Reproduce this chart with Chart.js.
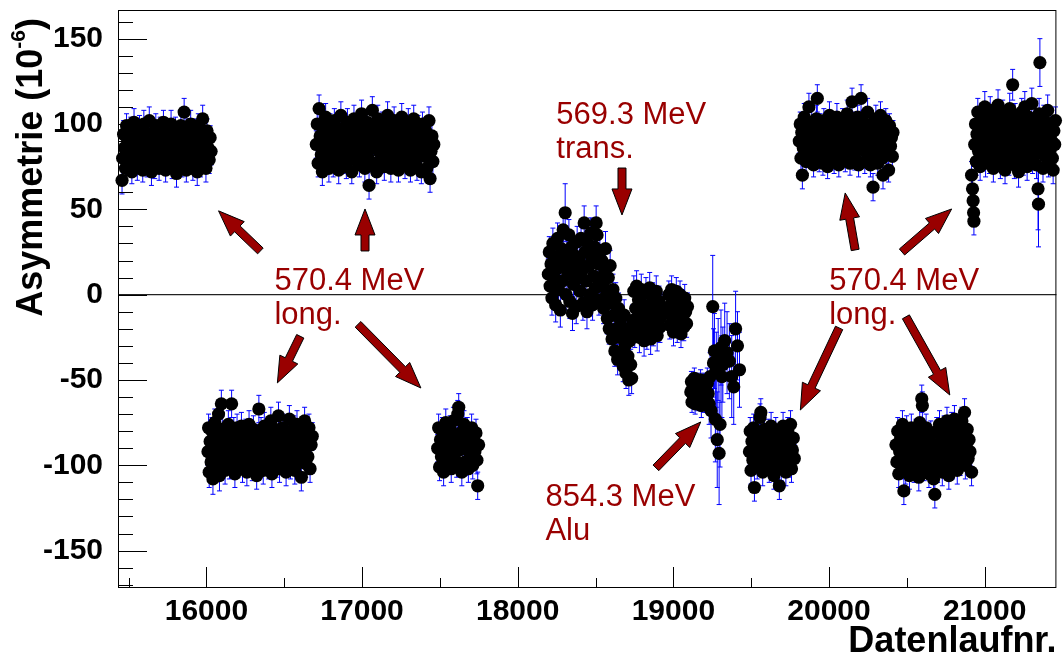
<!DOCTYPE html>
<html>
<head>
<meta charset="utf-8">
<script src="https://cdn.jsdelivr.net/npm/chart.js@4.4.1/dist/chart.umd.min.js"></script>
<style>
html, body { margin: 0; padding: 0; background: #fff; }
#wrap { width: 1063px; height: 662px; }
</style>
</head>
<body>
<div id="wrap"><canvas id="asym" width="1063" height="662"></canvas></div>
<script>
// each entry: [run number, asymmetry in ppm, error]
const longA = [[15458,67,8],[15462,80,7],[15468,94,8],[15474,86,7],[15480,74,8],[15487,99,7],[15494,90,7],[15500,78,8],[15507,84,7],[15514,96,8],[15521,72,7],[15528,88,7],[15535,101,8],[15542,81,7],[15549,93,7],[15556,75,8],[15563,86,7],[15570,98,7],[15577,79,8],[15584,91,7],[15591,73,7],[15598,100,8],[15605,85,7],[15612,95,7],[15619,77,8],[15626,89,7],[15633,102,8],[15640,82,7],[15647,72,8],[15654,94,7],[15661,87,7],[15668,76,8],[15675,99,7],[15682,83,7],[15689,91,8],[15696,74,7],[15703,97,7],[15710,86,8],[15717,80,7],[15724,101,7],[15731,90,8],[15738,73,7],[15745,84,7],[15752,95,8],[15759,78,7],[15766,88,7],[15773,100,8],[15780,75,7],[15787,92,7],[15794,83,8],[15801,97,7],[15808,71,8],[15815,87,7],[15822,94,7],[15829,80,8],[15836,99,7],[15843,76,7],[15850,89,8],[15857,107,8],[15864,84,7],[15871,73,7],[15878,95,8],[15885,86,7],[15892,78,7],[15899,100,8],[15906,91,7],[15913,74,7],[15920,82,8],[15927,96,7],[15934,88,7],[15941,72,8],[15948,99,7],[15955,85,7],[15962,77,8],[15969,93,7],[15976,103,8],[15983,81,7],[15990,90,7],[15997,74,8],[16004,96,7],[16011,86,7],[16018,79,8],[16024,92,7],[16030,84,8]];

const longB = [[16706,88,8],[16712,100,7],[16718,77,8],[16724,109,8],[16731,93,7],[16738,82,7],[16745,72,8],[16752,97,7],[16759,87,7],[16766,104,8],[16773,79,7],[16780,91,7],[16787,74,8],[16794,99,7],[16801,85,7],[16808,94,8],[16815,76,7],[16822,102,7],[16829,89,8],[16836,81,7],[16843,96,7],[16850,73,8],[16857,92,7],[16864,105,8],[16871,84,7],[16878,78,7],[16885,98,8],[16892,88,7],[16899,75,7],[16906,101,8],[16913,90,7],[16920,82,7],[16927,95,8],[16934,72,7],[16941,87,7],[16948,103,8],[16955,79,7],[16962,93,7],[16969,85,8],[16976,99,7],[16983,76,7],[16990,91,8],[16997,106,8],[17004,83,7],[17011,96,7],[17018,74,8],[17025,89,7],[17032,101,7],[17039,80,8],[17045,64,8],[17052,94,7],[17059,86,7],[17066,108,8],[17073,77,7],[17080,97,7],[17087,88,8],[17094,72,7],[17101,103,8],[17108,84,7],[17115,93,7],[17122,79,8],[17129,100,7],[17136,90,7],[17143,75,8],[17150,95,7],[17157,86,7],[17164,105,8],[17171,81,7],[17178,92,7],[17185,74,8],[17192,98,7],[17199,87,7],[17206,102,8],[17213,78,7],[17220,94,7],[17227,84,8],[17234,73,7],[17241,99,7],[17248,89,8],[17255,104,8],[17262,80,7],[17269,92,7],[17276,76,8],[17283,97,7],[17290,86,7],[17297,101,8],[17304,83,7],[17311,73,7],[17318,95,8],[17325,88,7],[17332,103,8],[17339,79,7],[17346,91,7],[17353,75,8],[17360,98,7],[17367,85,7],[17374,94,8],[17381,72,7],[17388,100,7],[17395,87,8],[17402,81,7],[17409,96,7],[17416,74,8],[17423,90,7],[17430,102,8],[17437,68,8],[17443,84,7],[17449,93,7],[17455,78,8],[17461,88,7]];

const longC = [[16010,-92,8],[16014,-78,8],[16018,-104,9],[16024,-86,8],[16030,-98,8],[16036,-80,8],[16042,-108,9],[16048,-90,8],[16054,-75,8],[16060,-100,8],[16066,-84,8],[16072,-95,8],[16078,-70,8],[16084,-106,9],[16090,-88,8],[16096,-64,8],[16102,-79,8],[16108,-97,8],[16114,-91,8],[16120,-103,8],[16127,-82,8],[16134,-94,8],[16141,-76,8],[16148,-100,8],[16155,-87,8],[16162,-64,8],[16169,-96,8],[16176,-80,8],[16183,-105,8],[16190,-90,8],[16197,-78,8],[16204,-99,8],[16211,-85,8],[16218,-93,8],[16225,-77,8],[16232,-102,8],[16239,-88,8],[16246,-95,8],[16253,-81,8],[16260,-104,8],[16267,-91,8],[16274,-76,8],[16281,-97,8],[16288,-86,8],[16295,-101,8],[16302,-79,8],[16309,-93,8],[16316,-84,8],[16323,-106,8],[16330,-89,8],[16337,-67,8],[16344,-98,8],[16351,-80,8],[16358,-92,8],[16365,-103,8],[16372,-77,8],[16379,-87,8],[16386,-96,8],[16393,-82,8],[16400,-100,8],[16407,-90,8],[16414,-74,8],[16421,-105,8],[16428,-85,8],[16435,-94,8],[16442,-79,8],[16449,-99,8],[16456,-88,8],[16463,-71,8],[16470,-102,8],[16477,-83,8],[16484,-93,8],[16491,-78,8],[16498,-97,8],[16505,-87,8],[16512,-104,8],[16519,-81,8],[16526,-92,8],[16533,-73,8],[16540,-100,8],[16547,-86,8],[16554,-95,8],[16561,-79,8],[16568,-103,8],[16575,-89,8],[16582,-76,8],[16589,-98,8],[16596,-84,8],[16603,-93,8],[16610,-107,8],[16617,-80,8],[16624,-91,8],[16631,-74,8],[16638,-99,8],[16645,-86,8],[16652,-95,8],[16659,-78,8],[16666,-102,8],[16673,-88,8],[16680,-83,8]];

const longD = [[17486,-90,8],[17492,-78,8],[17498,-101,8],[17504,-85,8],[17510,-95,8],[17517,-80,8],[17524,-104,8],[17531,-89,8],[17538,-75,8],[17545,-97,8],[17552,-84,8],[17559,-93,8],[17566,-79,8],[17573,-102,8],[17580,-88,8],[17587,-74,8],[17594,-96,8],[17601,-83,8],[17608,-99,8],[17615,-70,8],[17621,-66,8],[17627,-91,8],[17634,-81,8],[17641,-104,8],[17648,-86,8],[17655,-76,8],[17662,-98,8],[17669,-90,8],[17676,-80,8],[17683,-102,8],[17690,-87,8],[17697,-94,8],[17704,-78,8],[17711,-100,8],[17718,-85,8],[17725,-92,8],[17732,-81,8],[17738,-97,8],[17743,-112,8],[17749,-88,8]];

// 569.3 MeV, transverse polarisation
const trans = [[18197,12,9],[18203,25,9],[18208,5,9],[18214,18,9],[18220,-2,10],[18226,30,9],[18232,10,9],[18238,22,9],[18244,-6,10],[18250,15,9],[18256,33,9],[18262,3,9],[18268,20,9],[18274,-9,10],[18280,27,9],[18286,8,9],[18292,38,10],[18298,16,9],[18305,48,17],[18311,0,9],[18317,24,9],[18323,12,9],[18329,35,9],[18335,-4,10],[18341,19,9],[18347,28,9],[18352,-11,10],[18358,6,9],[18364,23,9],[18370,14,9],[18376,-7,10],[18382,31,9],[18388,10,9],
  [18395,20,9],[18401,2,9],[18407,33,9],[18413,14,9],[18419,-5,10],[18427,42,10],[18433,25,9],[18439,8,9],[18445,-10,10],[18451,30,9],[18457,17,9],[18463,0,9],[18469,36,9],[18475,22,9],[18481,-6,9],[18487,11,9],[18493,28,9],[18499,4,9],[18504,42,10],[18510,35,9],[18516,18,9],[18522,-3,9],[18528,26,9],[18534,10,9],
  [18540,20,9],[18546,5,9],[18552,-8,9],[18558,15,9],[18564,27,10],[18570,0,9],[18576,-14,9],[18582,10,9],[18588,-20,9],[18594,17,9],[18600,-5,9],[18606,-26,9],[18612,3,9],[18618,-12,9],[18624,-33,9],[18630,-2,9],[18636,-20,9],[18642,-38,9],[18648,-8,9],[18654,-25,9],[18660,-15,9],[18666,-34,9],[18672,-22,9],[18678,-42,9],[18684,-12,9],[18690,-30,9],[18696,-46,9],[18702,-20,9],[18708,-36,9],[18714,-50,9],[18720,-27,9],[18726,-41,9],[18732,-49,9],
  [18740,-15,9],[18746,2,9],[18752,-22,9],[18758,-8,9],[18764,5,9],[18770,-18,9],[18776,-3,9],[18782,-25,9],[18788,-12,9],[18794,3,9],[18800,-20,9],[18806,-6,9],[18812,-27,9],[18818,-14,9],[18824,1,9],[18830,-23,9],[18836,-9,9],[18842,-17,9],[18848,4,9],[18854,-26,9],[18860,-11,9],[18866,-2,9],[18872,-21,9],[18878,-7,9],[18884,-16,9],[18890,2,9],[18896,-24,9],[18902,-10,9],[18908,-4,9],[18914,-19,9],[18920,-13,9],[18926,-8,9],
  [18965,-10,8],[18971,0,8],[18977,-18,8],[18983,-6,8],[18989,3,8],[18995,-14,8],[19001,-22,8],[19007,-3,8],[19013,-12,8],[19019,2,8],[19025,-20,8],[19031,-8,8],[19037,-16,8],[19043,0,8],[19049,-23,8],[19055,-5,8],[19061,-13,8],[19067,-19,8],[19073,-2,8],[19079,-10,8],[19085,-17,8],[19091,-7,8]];

// 854.3 MeV, aluminium target
const alu = [[19112,-57,6],[19116,-51,6],[19120,-63,6],[19125,-55,6],[19130,-60,6],[19135,-49,6],[19140,-64,6],[19145,-54,6],[19150,-59,6],[19155,-52,6],[19160,-62,6],[19165,-56,6],[19170,-60,6],[19175,-50,6],[19180,-65,7],[19185,-55,6],[19190,-60,7],[19195,-53,7],[19200,-62,7],[19206,-57,7],[19212,-61,8],[19218,-52,9],[19224,-58,10],[19230,-64,12],[19236,-48,14],[19242,-68,16],[19253,-7,30],[19258,-40,20],[19264,-33,22],[19270,-73,25],[19276,-44,22],[19282,-85,28],[19288,-38,24],[19294,-93,30],[19300,-76,25],[19306,-31,22],[19312,-48,24],[19318,-41,22],[19330,-27,22],[19345,-34,24],[19360,-39,22],[19375,-48,24],[19388,-54,22],[19400,-20,22],[19412,-30,20],[19425,-44,22]];

const longG = [[19489,-92,8],[19494,-80,8],[19499,-103,8],[19505,-86,8],[19511,-97,8],[19516,-78,8],[19521,-113,8],[19527,-90,8],[19533,-82,8],[19539,-100,8],[19545,-87,8],[19551,-95,8],[19557,-72,8],[19562,-69,8],[19568,-84,8],[19574,-104,8],[19580,-91,8],[19586,-79,8],[19592,-98,8],[19598,-86,8],[19604,-94,8],[19610,-81,8],[19616,-102,8],[19622,-89,8],[19628,-77,8],[19634,-96,8],[19640,-85,8],[19646,-106,8],[19652,-92,8],[19658,-80,8],[19664,-99,8],[19670,-87,8],[19676,-95,8],[19681,-112,8],[19687,-83,8],[19693,-101,8],[19699,-90,8],[19705,-77,8],[19711,-97,8],[19717,-86,8],[19723,-104,8],[19729,-93,8],[19735,-80,8],[19741,-99,8],[19747,-88,8],[19753,-76,8],[19759,-102,8],[19765,-91,8],[19771,-84,8],[19777,-96,8]];

const longH = [[19809,90,7],[19815,100,7],[19820,80,7],[19825,95,7],[19829,70,8],[19835,86,7],[19841,104,8],[19847,92,7],[19853,78,7],[19859,98,7],[19865,85,7],[19871,110,8],[19877,93,7],[19883,81,7],[19889,101,7],[19895,88,7],[19901,76,7],[19907,96,7],[19913,84,7],[19919,103,8],[19925,115,8],[19931,90,7],[19937,79,7],[19943,99,7],[19949,87,7],[19955,94,7],[19961,77,7],[19967,102,7],[19973,89,7],[19979,83,7],[19985,97,7],[19991,75,7],[19997,92,7],[20003,105,8],[20009,86,7],[20015,80,7],[20021,100,7],[20027,91,7],[20033,78,7],[20039,96,7],[20045,84,7],[20051,104,8],[20057,88,7],[20063,76,7],[20069,99,7],[20075,93,7],[20081,81,7],[20087,102,7],[20093,87,7],[20099,95,7],[20105,79,7],[20111,90,7],[20117,106,8],[20123,84,7],[20129,97,7],[20135,77,7],[20141,92,7],[20148,113,8],[20154,86,7],[20160,100,7],[20166,80,7],[20172,94,7],[20178,88,7],[20184,104,7],[20190,76,7],[20196,96,7],[20206,115,8],[20212,85,7],[20218,101,7],[20224,91,7],[20230,78,7],[20236,98,7],[20242,87,7],[20248,107,8],[20254,82,7],[20260,94,7],[20266,76,7],[20272,100,7],[20278,89,7],[20283,63,8],[20289,96,7],[20295,83,7],[20301,103,8],[20307,92,7],[20313,77,7],[20319,99,7],[20325,86,7],[20331,105,8],[20337,90,7],[20343,80,7],[20347,70,8],[20353,97,7],[20359,88,7],[20365,102,7],[20371,84,7],[20377,94,7],[20383,73,7],[20389,99,7],[20395,87,7],[20401,92,7],[20407,81,7],[20411,95,7]];

const longI = [[20430,-88,8],[20436,-98,8],[20442,-80,8],[20448,-105,8],[20454,-92,8],[20460,-84,8],[20466,-100,8],[20472,-76,8],[20478,-95,8],[20481,-115,8],[20487,-87,8],[20493,-103,8],[20499,-79,8],[20505,-93,8],[20511,-85,8],[20517,-106,8],[20523,-90,8],[20529,-78,8],[20535,-99,8],[20541,-86,8],[20547,-102,8],[20553,-94,8],[20559,-81,8],[20565,-97,8],[20571,-88,8],[20577,-107,8],[20583,-75,8],[20589,-92,8],[20596,-61,8],[20600,-65,8],[20606,-84,8],[20612,-101,8],[20618,-90,8],[20624,-78,8],[20630,-96,8],[20636,-86,8],[20642,-105,8],[20648,-93,8],[20654,-82,8],[20660,-99,8],[20666,-88,8],[20672,-108,8],[20680,-117,8],[20686,-95,8],[20692,-80,8],[20698,-102,8],[20704,-89,8],[20710,-76,8],[20716,-97,8],[20722,-85,8],[20728,-104,8],[20734,-92,8],[20740,-79,8],[20746,-99,8],[20752,-87,8],[20758,-74,8],[20764,-95,8],[20770,-106,8],[20776,-83,8],[20782,-91,8],[20788,-77,8],[20794,-100,8],[20800,-88,8],[20806,-73,8],[20812,-96,8],[20818,-84,8],[20824,-103,8],[20830,-90,8],[20836,-78,8],[20842,-98,8],[20848,-86,8],[20854,-74,8],[20860,-94,8],[20866,-82,8],[20871,-69,8],[20876,-100,8],[20882,-88,8],[20888,-79,8],[20894,-96,8],[20900,-85,8],[20906,-92,8],[20916,-104,8]];

const longJ = [[20916,70,8],[20922,62,8],[20926,55,8],[20929,48,8],[20931,43,8],[20936,88,8],[20941,100,8],[20946,78,8],[20951,94,8],[20956,107,8],[20961,84,8],[20966,98,8],[20971,75,8],[20976,91,8],[20981,104,8],[20986,81,8],[20991,96,8],[20996,88,8],[21001,110,9],[21006,77,8],[21011,93,8],[21016,102,8],[21021,85,8],[21026,97,8],[21031,79,8],[21036,108,8],[21041,90,8],[21046,83,8],[21051,100,8],[21056,74,8],[21061,95,8],[21066,87,8],[21071,105,8],[21076,80,8],[21081,92,8],[21086,111,9],[21091,84,8],[21096,99,8],[21101,76,8],[21106,94,8],[21111,88,8],[21116,106,8],[21121,81,8],[21126,97,8],[21131,73,8],[21136,91,8],[21141,103,8],[21146,86,8],[21151,96,8],[21156,78,8],[21161,109,9],[21166,89,8],[21171,82,8],[21176,100,8],[21180,123,9],[21186,93,8],[21191,76,8],[21196,104,8],[21201,87,8],[21206,95,8],[21211,80,8],[21218,72,9],[21223,101,8],[21228,90,8],[21233,84,8],[21238,107,8],[21243,97,8],[21248,78,8],[21253,93,8],[21258,110,9],[21263,86,8],[21268,100,8],[21273,75,8],[21278,91,8],[21283,104,8],[21288,83,8],[21293,96,8],[21298,88,8],[21303,112,9],[21308,79,8],[21313,94,8],[21318,102,8],[21323,85,8],[21328,98,8],[21333,76,8],[21338,90,8],[21343,62,24],[21346,53,25],[21350,106,9],[21355,136,14],[21360,83,8],[21365,97,8],[21370,89,8],[21375,74,8],[21380,103,8],[21385,92,8],[21390,81,8],[21395,99,8],[21400,87,8],[21405,108,9],[21410,77,8],[21415,94,8],[21420,85,8],[21425,100,8],[21430,90,8],[21435,80,8],[21440,73,8],[21445,96,8],[21450,88,8],[21455,102,8]];

const runTicks = [16000, 17000, 18000, 19000, 20000, 21000];
const asymTicks = [-150, -100, -50, 0, 50, 100, 150];

// labels and arrows, anchored in (run, asymmetry)
const notes = [
  { lines: ['570.4 MeV', 'long.'], at: [16437, 2.8] },
  { lines: ['570.4 MeV', 'long.'], at: [20001, 2.8] },
  { lines: ['569.3 MeV', 'trans.'], at: [18248, 100] },
  { lines: ['854.3 MeV', 'Alu'], at: [18178, -123.8] }
];
const arrows = [
  [[16347, 25.6], [16078, 49.1]],
  [[17019, 25.6], [17019, 50.2]],
  [[16603, -24.4], [16456, -51.7]],
  [[16974, -17.4], [17378, -54.7]],
  [[18670, 74.2], [18670, 46.7]],
  [[18888, -101.5], [19176, -74.6]],
  [[20168, 26.2], [20104, 59.6]],
  [[20469, 25.0], [20788, 50.2]],
  [[20065, -19.5], [19816, -67.6]],
  [[20494, -13.0], [20776, -58.8]]
];

const FONT = "'Liberation Sans', Arial, Helvetica, sans-serif";
const RED = '#990000';

function toPoints(rows) {
  return rows.map(r => ({ x: r[0], y: r[1], e: r[2] }));
}

function drawArrow(ctx, x1, y1, x2, y2) {
  const len = Math.hypot(x2 - x1, y2 - y1);
  const ux = (x2 - x1) / len, uy = (y2 - y1) / len;
  const nx = -uy, ny = ux;
  const hl = 26, hw = 10, sw = 4;
  const bx = x2 - ux * hl, by = y2 - uy * hl;
  ctx.beginPath();
  ctx.moveTo(x1 + nx * sw, y1 + ny * sw);
  ctx.lineTo(bx + nx * sw, by + ny * sw);
  ctx.lineTo(bx + nx * hw, by + ny * hw);
  ctx.lineTo(x2, y2);
  ctx.lineTo(bx - nx * hw, by - ny * hw);
  ctx.lineTo(bx - nx * sw, by - ny * sw);
  ctx.lineTo(x1 - nx * sw, y1 - ny * sw);
  ctx.closePath();
  ctx.fillStyle = RED;
  ctx.fill();
  ctx.strokeStyle = '#000';
  ctx.lineWidth = 1;
  ctx.stroke();
}

const rootStyle = {
  id: 'rootStyle',
  beforeDatasetsDraw(chart) {
    const { ctx, chartArea: a, scales: { x, y } } = chart;
    ctx.save();
    // zero line
    const y0 = y.getPixelForValue(0);
    ctx.strokeStyle = '#222';
    ctx.lineWidth = 1.2;
    ctx.beginPath();
    ctx.moveTo(a.left, y0);
    ctx.lineTo(a.right, y0);
    ctx.stroke();
    // error bars
    ctx.strokeStyle = '#0000ff';
    ctx.lineWidth = 1;
    chart.data.datasets.forEach(ds => {
      ds.data.forEach(p => {
        const px = x.getPixelForValue(p.x);
        const top = y.getPixelForValue(p.y + p.e);
        const bot = y.getPixelForValue(p.y - p.e);
        ctx.beginPath();
        ctx.moveTo(px, top); ctx.lineTo(px, bot);
        ctx.moveTo(px - 2.5, top); ctx.lineTo(px + 2.5, top);
        ctx.moveTo(px - 2.5, bot); ctx.lineTo(px + 2.5, bot);
        ctx.stroke();
      });
    });
    ctx.restore();
  },
  afterDatasetsDraw(chart) {
    const { ctx, chartArea: a, scales: { x, y } } = chart;
    ctx.save();
    // frame
    ctx.strokeStyle = '#000';
    ctx.lineWidth = 1;
    ctx.strokeRect(a.left + 0.5, a.top + 0.5, a.right - a.left - 1, a.bottom - a.top - 1);
    // y ticks: major every 50, minor every 10
    ctx.beginPath();
    for (let v = -170; v <= y.max; v += 10) {
      const py = Math.round(y.getPixelForValue(v)) + 0.5;
      const len = v % 50 === 0 ? 29 : 15;
      ctx.moveTo(a.left, py); ctx.lineTo(a.left + len, py);
    }
    // x ticks: major every 1000, minor every 500
    for (let v = 15500; v <= x.max; v += 500) {
      const px = Math.round(x.getPixelForValue(v)) + 0.5;
      const len = v % 1000 === 0 ? 21 : 10;
      ctx.moveTo(px, a.bottom); ctx.lineTo(px, a.bottom - len);
    }
    ctx.stroke();

    // annotations
    ctx.font = '31px ' + FONT;
    ctx.fillStyle = RED;
    ctx.textAlign = 'left';
    ctx.textBaseline = 'alphabetic';
    notes.forEach(n => {
      const px = x.getPixelForValue(n.at[0]);
      const py = y.getPixelForValue(n.at[1]);
      n.lines.forEach((t, i) => ctx.fillText(t, px, py + i * 34));
    });
    arrows.forEach(([from, to]) => {
      drawArrow(ctx, x.getPixelForValue(from[0]), y.getPixelForValue(from[1]),
                     x.getPixelForValue(to[0]), y.getPixelForValue(to[1]));
    });

    // axis titles
    ctx.fillStyle = '#000';
    ctx.font = 'bold 36px ' + FONT;
    ctx.textAlign = 'right';
    ctx.fillText('Datenlaufnr.', a.right, 652);

    ctx.translate(42, 18);
    ctx.rotate(-Math.PI / 2);
    ctx.textAlign = 'left';
    const main = 'Asymmetrie (10', sup = '-6', close = ')';
    ctx.font = 'bold 36px ' + FONT;
    const w1 = ctx.measureText(main).width, w3 = ctx.measureText(close).width;
    ctx.font = 'bold 21px ' + FONT;
    const w2 = ctx.measureText(sup).width;
    let cx = -(w1 + w2 + w3);
    ctx.font = 'bold 36px ' + FONT;
    ctx.fillText(main, cx, 0);
    cx += w1;
    ctx.font = 'bold 21px ' + FONT;
    ctx.fillText(sup, cx, -17);
    cx += w2;
    ctx.font = 'bold 36px ' + FONT;
    ctx.fillText(close, cx, 0);
    ctx.restore();
  }
};

const groups = [longA, longB, longC, longD, trans, alu, longG, longH, longI, longJ];

new Chart(document.getElementById('asym'), {
  type: 'scatter',
  data: {
    datasets: groups.map(g => ({
      data: toPoints(g),
      backgroundColor: '#000',
      borderWidth: 0,
      pointRadius: 6.6,
      pointHoverRadius: 6.6,
      clip: false
    }))
  },
  options: {
    responsive: false,
    animation: false,
    events: [],
    devicePixelRatio: 1,
    layout: { padding: { top: 10, right: 3, left: 0, bottom: 0 } },
    plugins: { legend: { display: false }, tooltip: { enabled: false } },
    scales: {
      x: {
        type: 'linear',
        min: 15432,
        max: 21461,
        afterFit: s => { s.height = 74; s.paddingLeft = 0; s.paddingRight = 0; },
        afterBuildTicks: s => { s.ticks = runTicks.map(v => ({ value: v })); },
        grid: { display: false, drawTicks: false },
        border: { display: false },
        ticks: {
          autoSkip: false, maxRotation: 0, padding: 6, color: '#000',
          font: { family: FONT, size: 30, weight: 'bold' },
          callback: v => String(v)
        }
      },
      y: {
        type: 'linear',
        min: -171.9,
        max: 166.8,
        afterFit: s => { s.width = 118; s.paddingTop = 0; s.paddingBottom = 0; },
        afterBuildTicks: s => { s.ticks = asymTicks.map(v => ({ value: v })); },
        grid: { display: false, drawTicks: false },
        border: { display: false },
        ticks: {
          autoSkip: false, padding: 15, color: '#000',
          font: { family: FONT, size: 30, weight: 'bold' },
          callback: v => String(v)
        }
      }
    }
  },
  plugins: [rootStyle]
});
</script>
</body>
</html>
